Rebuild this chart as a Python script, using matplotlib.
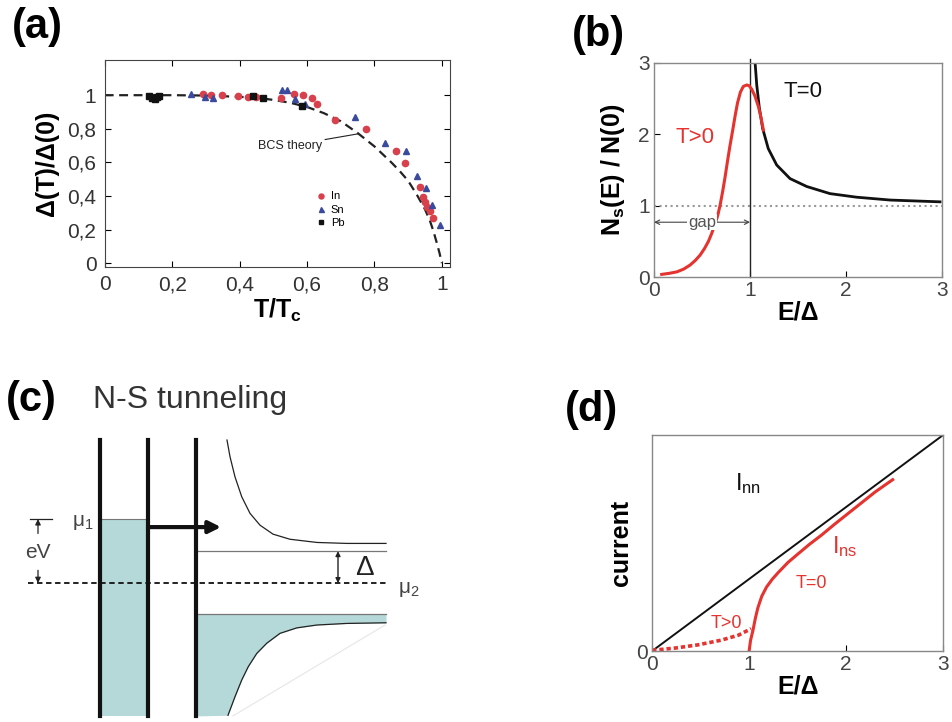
import matplotlib.pyplot as plt

plt.rcParams['font.family'] = ['Liberation Sans', 'DejaVu Sans']
plt.rcParams['mathtext.fontset'] = 'custom'
plt.rcParams['mathtext.rm'] = 'Liberation Sans'
plt.rcParams['mathtext.it'] = 'Liberation Sans:italic'
plt.rcParams['mathtext.bf'] = 'Liberation Sans:bold'

RED = '#e5332f'
TEAL = '#b5d8d8'
GREY = '#333333'

# (a) gap vs temperature
bcs_t = [0, 0.1, 0.2, 0.3, 0.4, 0.45, 0.5, 0.55, 0.6, 0.65, 0.7, 0.75, 0.8,
         0.85, 0.875, 0.9, 0.925, 0.95, 0.965, 0.975, 0.985, 0.993, 1.0]
bcs_d = [1.0, 1.0, 1.0, 0.998, 0.99, 0.985, 0.972, 0.955, 0.93, 0.893, 0.845,
         0.775, 0.695, 0.60, 0.548, 0.49, 0.41, 0.32, 0.25, 0.19, 0.12, 0.06, 0.0]
in_t = [0.292, 0.314, 0.347, 0.396, 0.426, 0.45, 0.522, 0.562, 0.587, 0.614,
        0.631, 0.683, 0.774, 0.864, 0.891, 0.936, 0.944, 0.95, 0.957, 0.965, 0.973]
in_d = [1.01, 1.0, 1.0, 0.996, 0.99, 0.99, 0.986, 1.01, 1.0, 0.984,
        0.947, 0.855, 0.796, 0.669, 0.594, 0.455, 0.396, 0.366, 0.337, 0.313, 0.267]
sn_t = [0.257, 0.297, 0.322, 0.525, 0.542, 0.564, 0.594, 0.741, 0.832, 0.894,
        0.926, 0.953, 0.972, 0.993]
sn_d = [1.01, 0.99, 0.986, 1.03, 1.03, 0.98, 0.95, 0.871, 0.717, 0.667,
        0.521, 0.45, 0.347, 0.228]
pb_t = [0.13, 0.14, 0.15, 0.155, 0.16, 0.44, 0.47, 0.584]
pb_d = [0.995, 0.985, 0.98, 0.99, 0.995, 0.996, 0.986, 0.935]
a_ticks = [0, 0.2, 0.4, 0.6, 0.8, 1]
a_ticklabels = ['0', '0,2', '0,4', '0,6', '0,8', '1']

# (b) density of states
ns_e = [1.052, 1.07, 1.097, 1.132, 1.19, 1.278, 1.417, 1.59, 1.833, 2.11,
        2.46, 2.98]
ns_n = [3.02, 2.69, 2.37, 2.08, 1.80, 1.57, 1.38, 1.27, 1.17, 1.12,
        1.08, 1.055]
th_e = [0.08, 0.16, 0.24, 0.31, 0.375, 0.43, 0.48, 0.525, 0.566, 0.6, 0.635,
        0.665, 0.69, 0.715, 0.74, 0.765, 0.79, 0.82, 0.845, 0.87, 0.9, 0.93,
        0.966, 0.99, 1.018, 1.05, 1.087, 1.115, 1.139]
th_n = [0.04, 0.055, 0.076, 0.115, 0.17, 0.235, 0.31, 0.4, 0.5, 0.61, 0.74,
        0.87, 1.02, 1.2, 1.4, 1.62, 1.83, 2.06, 2.26, 2.44, 2.59, 2.67,
        2.69, 2.68, 2.63, 2.54, 2.39, 2.23, 2.06]

# (d) current-voltage
inn_e = [0, 3]
inn_i = [0, 3]
ins_e = [1.0, 1.015, 1.04, 1.065, 1.09, 1.13, 1.18, 1.24, 1.3, 1.4, 1.505,
         1.62, 1.746, 1.88, 2.02, 2.16, 2.3, 2.48]
ins_i = [0.0, 0.15, 0.29, 0.46, 0.6, 0.76, 0.89, 1.0, 1.09, 1.23, 1.35,
         1.48, 1.61, 1.76, 1.91, 2.06, 2.21, 2.38]
ins_hot_e = [0, 0.23, 0.47, 0.71, 0.89, 1.02]
ins_hot_i = [0.01, 0.04, 0.085, 0.15, 0.22, 0.31]

# (c) N-S tunneling schematic (x: position, y: energy in units of gap)
barrier_x = [100, 148, 196]
level_top, level_bottom = 4.47, -4.15
mu1, mu2, gap = 2.0, 0.0, 1.0
lower_edge = -0.97
up_x = [227, 230, 235, 241.7, 250, 260, 273, 290, 317, 347, 386]
up_e = [4.47, 3.95, 3.32, 2.70, 2.18, 1.81, 1.53, 1.37, 1.27, 1.24, 1.24]
lo_x = [196, 228, 235, 241.7, 248.3, 256.7, 266.7, 280, 296.7, 316.7, 346.7, 386]
lo_e = [-4.15, -4.13, -3.55, -3.03, -2.61, -2.20, -1.88, -1.57, -1.40, -1.31,
        -1.26, -1.24]

fig = plt.figure(figsize=(9.52, 7.22), dpi=100)

# ---------------- (a)
ax = fig.add_axes([0.110, 0.630, 0.363, 0.287])
ax.plot(bcs_t, bcs_d, color='#222222', lw=1.6, ls=(0, (4, 2.5)))
ax.plot(in_t, in_d, 'o', color='#d8404c', ms=4.5, ls='none', label='In')
ax.plot(sn_t, sn_d, '^', color='#3a4a9c', ms=4.5, ls='none', label='Sn')
ax.plot(pb_t, pb_d, 's', color='#111111', ms=4, ls='none', label='Pb')
ax.set_xlim(0, 1.025)
ax.set_ylim(-0.024, 1.21)
ax.set_xticks(a_ticks)
ax.set_xticklabels(a_ticklabels)
ax.set_yticks(a_ticks)
ax.set_yticklabels(a_ticklabels)
ax.tick_params(direction='in', top=True, right=True, length=4, labelsize=15,
               labelcolor=GREY, pad=6)
for s in ax.spines.values():
    s.set_color('#444444')
    s.set_linewidth(0.8)
ax.set_xlabel(r'T/T$_\mathbf{c}$', fontsize=18, fontweight='bold', labelpad=2)
ax.set_ylabel('Δ(T)/Δ(0)', fontsize=18, fontweight='bold', labelpad=6)
ax.annotate('BCS theory', xy=(0.752, 0.77), xytext=(0.55, 0.70),
            fontsize=9, ha='center', va='center', color='#222222',
            arrowprops=dict(arrowstyle='-', color='#222222', lw=0.8,
                            shrinkA=0, shrinkB=0))
ax.legend(loc='lower left', bbox_to_anchor=(0.58, 0.14), frameon=False,
          fontsize=8, handletextpad=0.4, labelspacing=0.3, handlelength=1,
          markerscale=0.8)

# ---------------- (b)
ax = fig.add_axes([0.687, 0.616, 0.3025, 0.297])
ax.axhline(1, color='#999999', ls=':', lw=1.5)
ax.plot([1, 1], [0, 3.05], color='#222222', lw=1, clip_on=False)
ax.plot(ns_e, ns_n, color='#111111', lw=2)
ax.plot(th_e, th_n, color=RED, lw=2.2)
ax.annotate('', xy=(0, 0.77), xytext=(1, 0.77),
            arrowprops=dict(arrowstyle='<->', color='#444444', lw=0.8,
                            shrinkA=0, shrinkB=0, mutation_scale=8))
ax.text(0.5, 0.77, 'gap', ha='center', va='center', fontsize=12,
        color='#555555', bbox=dict(facecolor='white', edgecolor='none', pad=0.5))
ax.text(1.35, 2.6, 'T=0', fontsize=16, color='#111111', va='center')
ax.text(0.22, 1.95, 'T>0', fontsize=16, color=RED, va='center')
ax.set_xlim(0, 3)
ax.set_ylim(0, 3)
ax.set_xticks([0, 1, 2, 3])
ax.set_yticks([0, 1, 2, 3])
ax.tick_params(direction='in', length=4, labelsize=15, labelcolor='#444444',
               pad=3)
for s in ax.spines.values():
    s.set_color('#888888')
    s.set_linewidth(1)
ax.set_xlabel('E/Δ', fontsize=18, fontweight='bold', labelpad=0)
ax.set_ylabel(r'N$_\mathbf{s}$(E) / N(0)', fontsize=18, fontweight='bold',
              labelpad=8)

# ---------------- (d)
ax = fig.add_axes([0.685, 0.0983, 0.3057, 0.2992])
ax.plot(inn_e, inn_i, color='#111111', lw=1.4)
ax.plot(ins_e, ins_i, color=RED, lw=2.2)
ax.plot(ins_hot_e, ins_hot_i, color=RED, lw=2.6, ls=(0, (1.2, 0.8)))
ax.text(0.99, 2.33, r'I$_\mathrm{nn}$', fontsize=17, color='#111111',
        ha='center', va='center')
ax.text(1.99, 1.45, r'I$_\mathrm{ns}$', fontsize=17, color=RED,
        ha='center', va='center')
ax.text(1.64, 0.94, 'T=0', fontsize=13, color=RED, ha='center', va='center')
ax.text(0.77, 0.38, 'T>0', fontsize=13, color=RED, ha='center', va='center')
ax.set_xlim(0, 3)
ax.set_ylim(0, 3)
ax.set_xticks([0, 1, 2, 3])
ax.set_yticks([0])
ax.tick_params(direction='in', length=4, labelsize=15, labelcolor='#444444',
               pad=3)
for s in ax.spines.values():
    s.set_color('#888888')
    s.set_linewidth(1)
ax.set_xlabel('E/Δ', fontsize=18, fontweight='bold', labelpad=0)
ax.set_ylabel('current', fontsize=18, fontweight='bold', labelpad=2)

# ---------------- (c)
ax = fig.add_axes([0, 0, 0.5, 0.5])
ax.set_xlim(0, 476)
ax.set_ylim(-4.34, 6.94)
ax.axis('off')
ax.fill_between([barrier_x[0], barrier_x[1]], level_bottom, mu1,
                color=TEAL, lw=0)
ax.plot([barrier_x[0], barrier_x[1]], [mu1, mu1], color='#777777', lw=0.8)
ax.fill_between(lo_x, lo_e, lower_edge, color=TEAL, lw=0)
ax.plot(lo_x[1:], lo_e[1:], color='#222222', lw=0.9)
ax.plot(up_x, up_e, color='#222222', lw=0.9)
ax.plot([233, 385], [-4.15, -1.31], color='#e6e6e6', lw=0.8)
ax.plot([barrier_x[2], 386], [lower_edge, lower_edge], color='#777777', lw=0.9)
ax.plot([barrier_x[2], 386], [gap, gap], color='#777777', lw=0.9)
ax.plot([28, 386], [mu2, mu2], color='#111111', lw=1.3, ls=(0, (3, 2)))
for bx in barrier_x:
    ax.plot([bx, bx], [level_bottom, level_top], color='#111111', lw=3)
ax.annotate('', xy=(221, 1.75), xytext=(148, 1.75),
            arrowprops=dict(arrowstyle='-|>', color='#111111', lw=3,
                            mutation_scale=18, shrinkA=0, shrinkB=0))
# eV marker
ax.plot([30, 52], [mu1, mu1], color='#222222', lw=0.9)
ax.annotate('', xy=(38, mu1), xytext=(38, 1.55),
            arrowprops=dict(arrowstyle='-|>', color='#222222', lw=0.9,
                            mutation_scale=8, shrinkA=0, shrinkB=0))
ax.annotate('', xy=(38, mu2), xytext=(38, 0.4),
            arrowprops=dict(arrowstyle='-|>', color='#222222', lw=0.9,
                            mutation_scale=8, shrinkA=0, shrinkB=0))
ax.text(38, 0.97, 'eV', fontsize=15, color='#444444', ha='center', va='center')
ax.text(72, 1.9, r'μ$_1$', fontsize=15, color='#444444', ha='left', va='center')
ax.text(398, -0.2, r'μ$_2$', fontsize=15, color='#444444', ha='left', va='center')
ax.annotate('', xy=(338, gap), xytext=(338, mu2),
            arrowprops=dict(arrowstyle='<|-|>', color='#222222', lw=1,
                            mutation_scale=7, shrinkA=0, shrinkB=0))
ax.text(355, 0.47, 'Δ', fontsize=20, color='#222222', ha='left', va='center')
ax.text(93, 5.72, 'N-S tunneling', fontsize=23, color='#333333',
        ha='left', va='center')

# panel labels
fig.text(0.012, 0.962, '(a)', fontsize=30, fontweight='bold', va='center')
fig.text(0.601, 0.952, '(b)', fontsize=30, fontweight='bold', va='center')
fig.text(0.006, 0.446, '(c)', fontsize=30, fontweight='bold', va='center')
fig.text(0.593, 0.432, '(d)', fontsize=30, fontweight='bold', va='center')

fig.savefig('out.png', dpi=100)
